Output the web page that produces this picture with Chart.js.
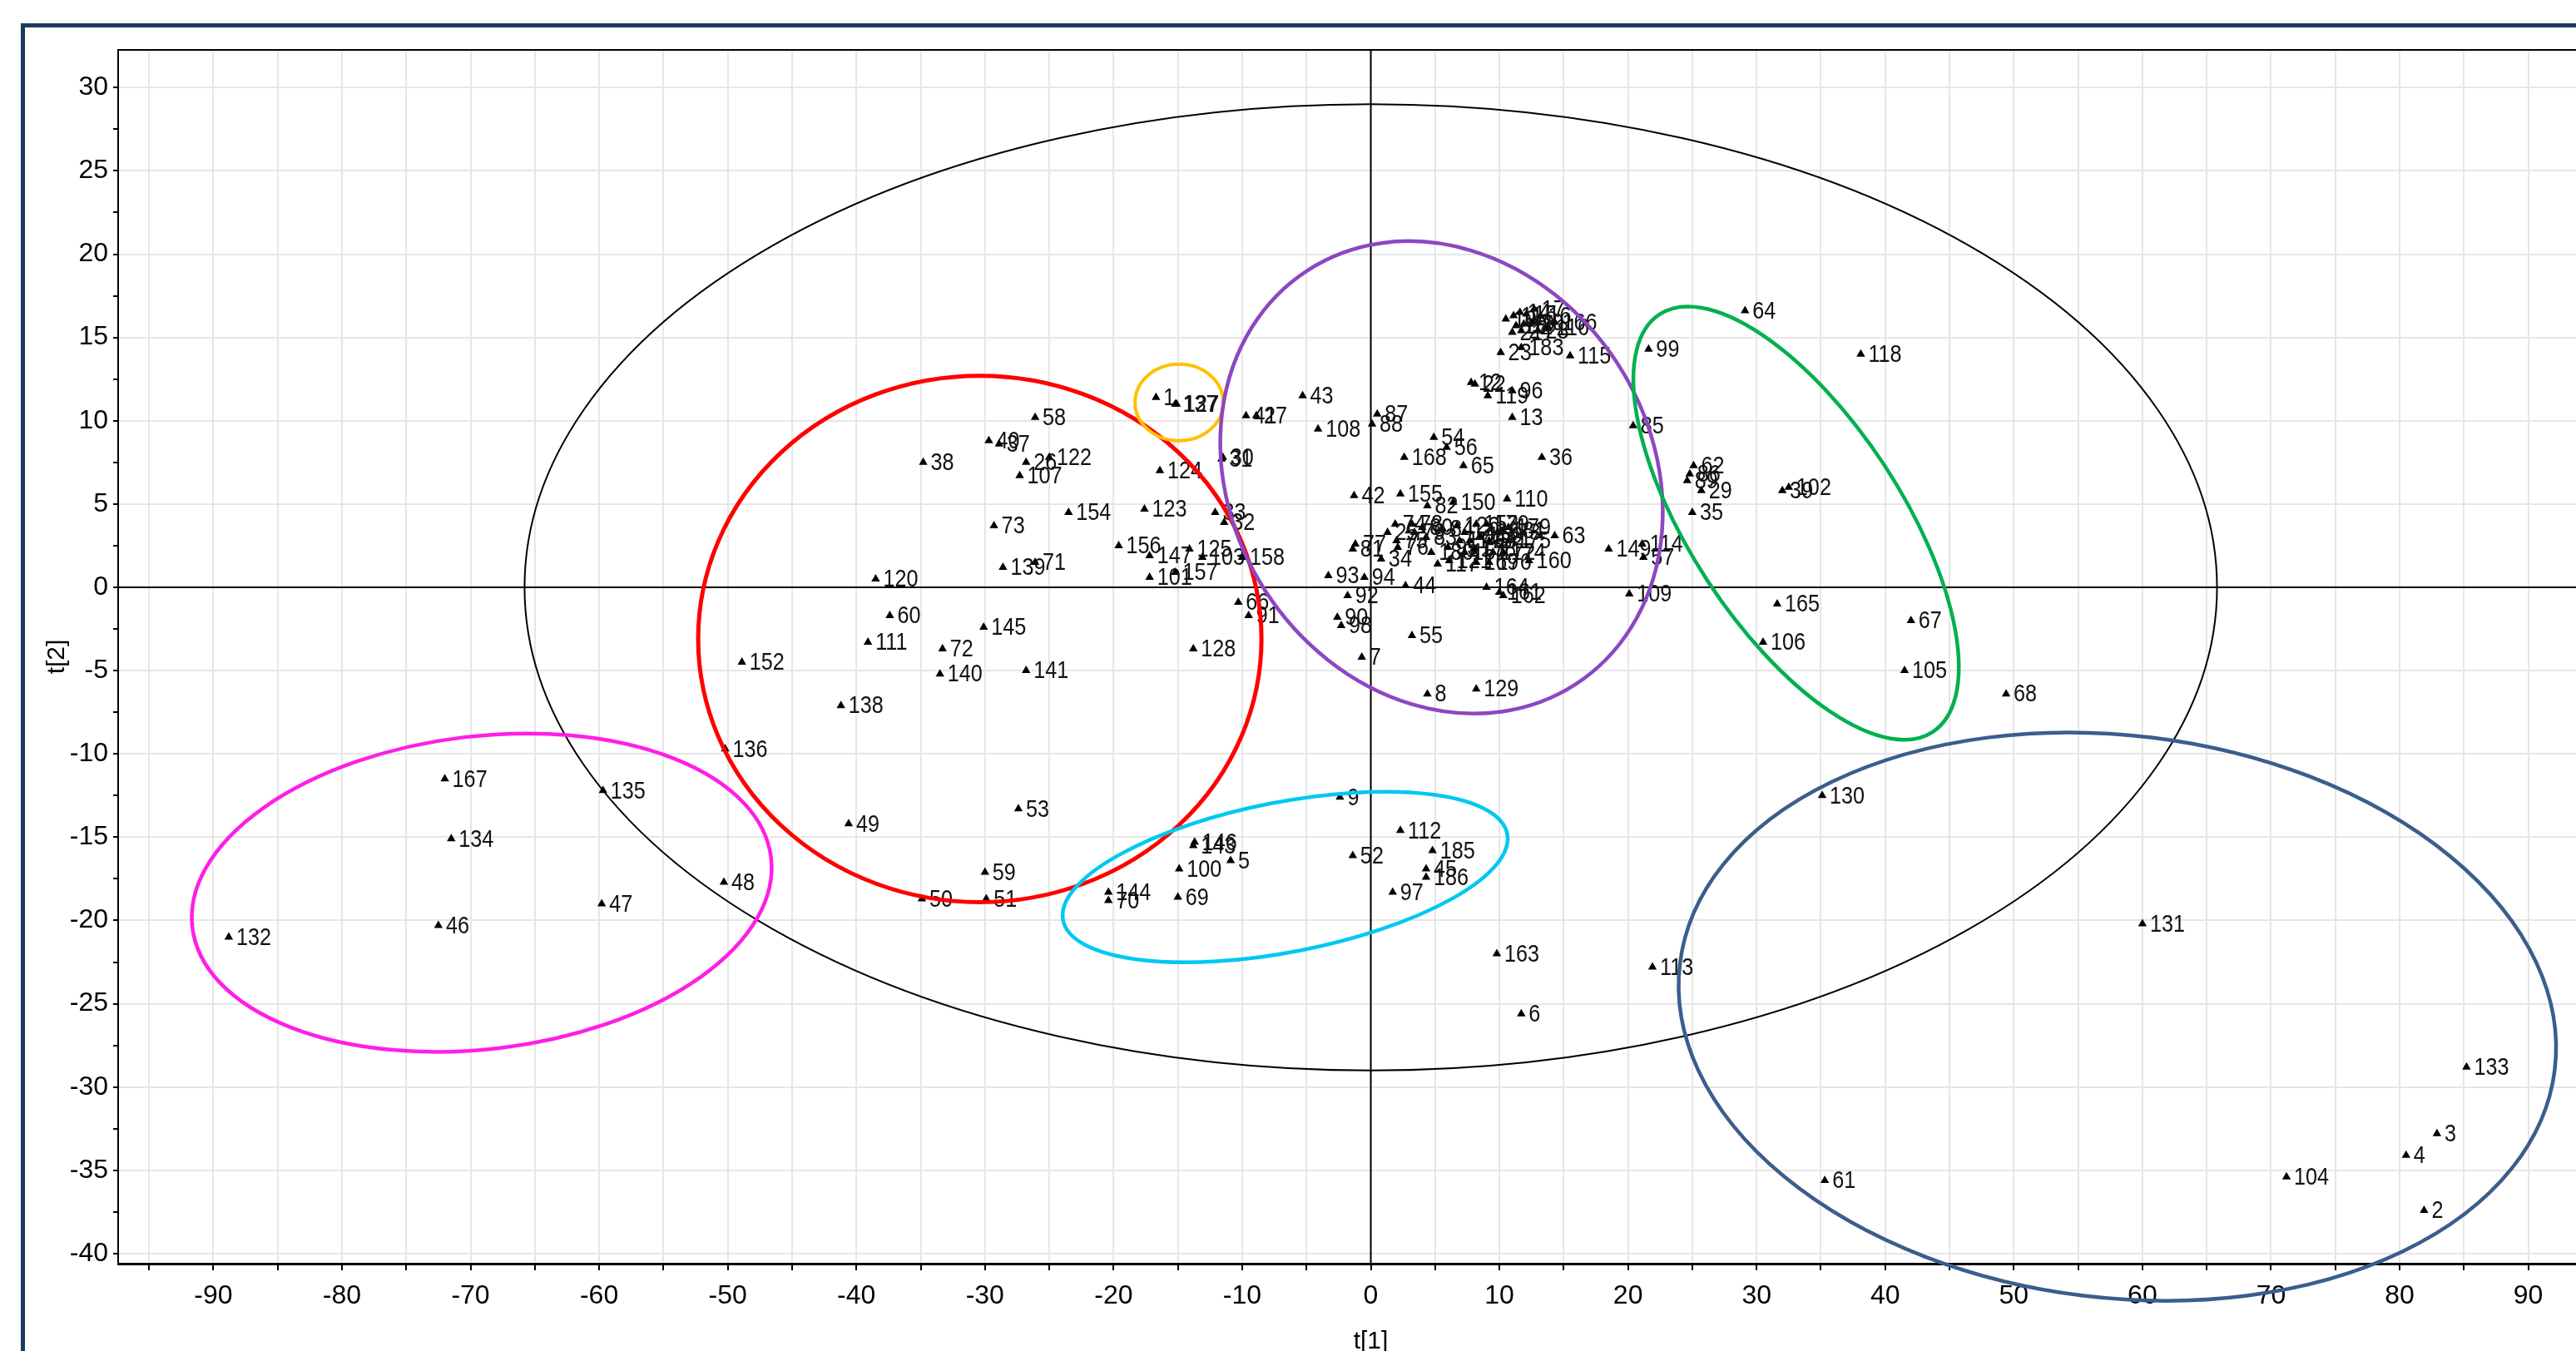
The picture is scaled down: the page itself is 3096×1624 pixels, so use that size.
<!DOCTYPE html>
<html>
<head>
<meta charset="utf-8">
<script src="https://cdn.jsdelivr.net/npm/chart.js@4.4.1/dist/chart.umd.min.js"></script>
<style>
html, body { margin: 0; padding: 0; background: #fff; overflow: hidden; width: 3096px; height: 1624px; }
#wrap { position: absolute; left: 0; top: 0; width: 3200px; height: 1700px; }
#frame { position: absolute; left: 25px; top: 28px; width: 3300px; height: 1800px; border: 5px solid #1c3a5e; pointer-events: none; }
</style>
</head>
<body>
<div id="wrap"><canvas id="scoreChart" width="3200" height="1700"></canvas></div>
<div id="frame"></div>
<script>
// score plot t[1] vs t[2], one entry per sample
const sampleIds = [
    132, 167, 134, 46, 135, 47, 48, 136, 152, 49, 138, 50, 51, 59, 53,
    120, 60, 111, 145, 72, 140, 141, 38, 40, 37, 58, 26, 122, 107, 73, 154, 139, 71,
    124, 123, 156, 147, 101, 125, 157, 103, 158, 33, 32, 31, 30, 66, 91, 128, 1, 137, 127,
    41, 27, 43, 108, 87, 88,
    54, 56, 168, 65, 36, 13, 12, 22, 119, 96, 23, 115, 99, 85, 42, 155, 82, 150, 110, 63,
    149, 114, 57, 109, 164, 161, 162, 160, 44, 93, 94, 92, 90, 98, 81, 77, 34, 7, 55, 8, 129,
    25, 74, 75, 76, 78, 79, 80, 83, 84, 95, 117, 121, 126, 142, 148, 151, 153, 159, 169,
    170, 171, 172, 173, 174, 175, 176, 177, 178, 179, 180, 181,
    10, 11, 14, 15, 17, 16, 18, 19, 20, 21, 24, 28, 116, 166, 183,
    64, 118, 62, 86, 89, 29, 35, 39, 102, 165, 106, 67, 105, 68,
    130, 131, 113, 133, 3, 4, 104, 61, 2,
    163, 6, 9, 112, 52, 185, 45, 186, 97, 146, 143, 100, 5, 69, 144, 70
];
const t1 = [
    -88.8, -72.0, -71.5, -72.5, -59.7, -59.8, -50.3, -50.2, -48.9, -40.6, -41.2, -34.9, -29.9, -30.0, -27.4,
    -38.5, -37.4, -39.1, -30.1, -33.3, -33.5, -26.8, -34.8, -29.7, -28.9, -26.1, -26.8, -25.0, -27.3, -29.3, -23.5, -28.6, -26.1,
    -16.4, -17.6, -19.6, -17.2, -17.2, -14.1, -15.2, -13.1, -10.0, -12.1, -11.4, -11.6, -11.5, -10.3, -9.5, -13.8, -16.7, -15.2, -15.1,
    -9.7, -8.9, -5.3, -4.1, 0.5, 0.1,
    4.9, 5.9, 2.6, 7.2, 13.3, 11.0, 7.8, 8.1, 9.1, 11.0, 10.1, 15.5, 21.6, 20.4, -1.3, 2.3, 4.4, 6.4, 10.6, 14.3,
    18.5, 21.1, 21.2, 20.1, 9.0, 10.0, 10.3, 12.3, 2.7, -3.3, -0.5, -1.8, -2.6, -2.3, -1.4, -1.2, 0.8, -0.7, 3.2, 4.4, 8.2,
    1.3, 1.9, 2.0, 2.1, 3.2, 3.4, 4.0, 4.3, 5.6, 6.0, 5.2, 6.1, 6.7, 7.3, 7.7, 7.3, 8.2, 8.5, 8.2,
    9.0, 9.2, 9.5, 9.9, 10.3, 10.7, 9.2, 6.9, 8.0, 10.7, 4.7, 10.3,
    10.5, 11.1, 11.6, 12.1, 12.7, 13.2, 11.3, 11.9, 12.6, 11.0, 11.7, 13.0, 13.8, 14.3, 11.7,
    29.1, 38.1, 25.1, 24.8, 24.6, 25.7, 25.0, 32.0, 32.5, 31.6, 30.5, 42.0, 41.5, 49.4,
    35.1, 60.0, 21.9, 85.2, 82.9, 80.5, 71.2, 35.3, 81.9,
    9.8, 11.7, -2.4, 2.3, -1.4, 4.8, 4.3, 4.3, 1.7, -13.7, -13.8, -14.9, -10.9, -15.0, -20.4, -20.4
];
const t2 = [
    -21.0, -11.5, -15.1, -20.3, -12.2, -19.0, -17.7, -9.7, -4.5, -14.2, -7.1, -18.7, -18.7, -17.1, -13.3,
    0.5, -1.7, -3.3, -2.4, -3.7, -5.2, -5.0, 7.5, 8.8, 8.6, 10.2, 7.5, 7.8, 6.7, 3.7, 4.5, 1.2, 1.5,
    7.0, 4.7, 2.5, 1.9, 0.6, 2.3, 0.9, 1.8, 1.8, 4.5, 3.9, 7.7, 7.8, -0.9, -1.7, -3.7, 11.4, 11.0, 11.0,
    10.3, 10.3, 11.5, 9.5, 10.4, 9.8,
    9.0, 8.4, 7.8, 7.3, 7.8, 10.2, 12.3, 12.2, 11.5, 11.8, 14.1, 13.9, 14.3, 9.7, 5.5, 5.6, 4.9, 5.1, 5.3, 3.1,
    2.3, 2.6, 1.8, -0.4, 0.0, -0.3, -0.5, 1.6, 0.1, 0.7, 0.6, -0.5, -1.8, -2.3, 2.3, 2.6, 1.7, -4.2, -2.9, -6.4, -6.1,
    3.3, 3.8, 2.8, 2.4, 3.8, 3.3, 3.6, 3.0, 3.5, 2.4, 1.4, 1.6, 3.7, 3.3, 2.8, 2.1, 3.8, 3.1, 1.5,
    3.8, 2.8, 2.1, 3.3, 2.1, 2.8, 1.5, 2.8, 2.3, 3.6, 2.1, 3.4,
    16.1, 16.3, 16.5, 16.4, 16.7, 16.3, 15.7, 15.8, 15.9, 15.3, 15.4, 15.4, 15.6, 15.9, 14.4,
    16.6, 14.0, 7.3, 6.8, 6.4, 5.8, 4.5, 5.8, 6.0, -1.0, -3.3, -2.0, -5.0, -6.4,
    -12.5, -20.2, -22.8, -28.8, -32.8, -34.1, -35.4, -35.6, -37.4,
    -22.0, -25.6, -12.6, -14.6, -16.1, -15.8, -16.9, -17.4, -18.3, -15.3, -15.5, -16.9, -16.4, -18.6, -18.3, -18.8
];

const xTicks = [-95, -90, -85, -80, -75, -70, -65, -60, -55, -50, -45, -40, -35, -30, -25, -20, -15, -10, -5,
    0, 5, 10, 15, 20, 25, 30, 35, 40, 45, 50, 55, 60, 65, 70, 75, 80, 85, 90, 95];
const yTicks = [-40, -37.5, -35, -32.5, -30, -27.5, -25, -22.5, -20, -17.5, -15, -12.5, -10, -7.5, -5, -2.5,
    0, 2.5, 5, 7.5, 10, 12.5, 15, 17.5, 20, 22.5, 25, 27.5, 30];

// group outlines drawn over the scores (centre in t units, radii in t units, tilt in degrees)
const groups = [
    { cx: 0, cy: 0, rx: 65.8, ry: 29.0, rot: 0, color: '#000000', width: 2 },
    { cx: -30.4, cy: -3.1, rx: 21.9, ry: 15.8, rot: 0, color: '#ff0000', width: 5 },
    { cx: -14.9, cy: 11.1, rx: 3.43, ry: 2.3, rot: 0, color: '#ffc000', width: 4 },
    { cx: 5.5, cy: 6.6, rx: 16.3, ry: 14.8, rot: -33, color: '#8e46c2', width: 4.5 },
    { cx: 33.07, cy: 3.85, rx: 19.4, ry: 6.34, rot: 56.8, color: '#00b050', width: 4.5 },
    { cx: -6.66, cy: -17.39, rx: 17.59, ry: 4.5, rot: -11, color: '#00c8f2', width: 4.5 },
    { cx: -69.13, cy: -18.33, rx: 22.66, ry: 9.39, rot: -6.9, color: '#ff1ee6', width: 4.5 },
    { cx: 58.05, cy: -25.77, rx: 34.26, ry: 16.88, rot: 6.9, color: '#3a5e8c', width: 4.5 }
];

const narrow = '"Liberation Sans Narrow", "Arial Narrow", "Liberation Sans", Arial, sans-serif';

const frameLines = {
    id: 'frameLines',
    beforeDatasetsDraw(chart) {
        const { ctx, chartArea, scales } = chart;
        const x0 = scales.x.getPixelForValue(0);
        const y0 = scales.y.getPixelForValue(0);
        ctx.save();
        ctx.strokeStyle = '#000';
        ctx.lineWidth = 2;
        ctx.beginPath();
        ctx.moveTo(x0, chartArea.top);
        ctx.lineTo(x0, chartArea.bottom);
        ctx.moveTo(chartArea.left, y0);
        ctx.lineTo(chartArea.right, y0);
        ctx.moveTo(chartArea.left, chartArea.top);
        ctx.lineTo(chartArea.right, chartArea.top);
        ctx.stroke();
        ctx.restore();
    }
};

// sample numbers to the right of each triangle, squeezed a little like the original narrow face
const pointLabels = {
    id: 'pointLabels',
    afterDatasetsDraw(chart) {
        const { ctx } = chart;
        const meta = chart.getDatasetMeta(0);
        ctx.save();
        ctx.font = '30px ' + narrow;
        ctx.fillStyle = '#111';
        ctx.textBaseline = 'middle';
        ctx.textAlign = 'left';
        meta.data.forEach((pt, i) => {
            ctx.save();
            ctx.translate(pt.x + 9, pt.y + 1);
            ctx.scale(0.84, 1);
            ctx.fillText(String(sampleIds[i]), 0, 0);
            ctx.restore();
        });
        ctx.restore();
    }
};

const groupOutlines = {
    id: 'groupOutlines',
    afterDraw(chart) {
        const { ctx, scales: { x, y } } = chart;
        const kx = Math.abs(x.getPixelForValue(1) - x.getPixelForValue(0));
        const ky = Math.abs(y.getPixelForValue(0) - y.getPixelForValue(1));
        ctx.save();
        groups.forEach(g => {
            ctx.beginPath();
            ctx.ellipse(x.getPixelForValue(g.cx), y.getPixelForValue(g.cy),
                g.rx * kx, g.ry * ky, g.rot * Math.PI / 180, 0, Math.PI * 2);
            ctx.strokeStyle = g.color;
            ctx.lineWidth = g.width;
            ctx.stroke();
        });
        ctx.restore();
    }
};

new Chart(document.getElementById('scoreChart'), {
    type: 'scatter',
    data: {
        datasets: [{
            data: t1.map((v, i) => ({ x: v, y: t2[i] })),
            pointStyle: 'triangle',
            pointRadius: 6,
            backgroundColor: '#000',
            borderWidth: 0
        }]
    },
    options: {
        responsive: false,
        animation: false,
        devicePixelRatio: 1,
        layout: { padding: { top: 60, right: 47, bottom: 0, left: 0 } },
        plugins: { legend: { display: false }, tooltip: { enabled: false } },
        scales: {
            x: {
                type: 'linear',
                position: 'bottom',
                min: -97.4,
                max: 97.4,
                afterBuildTicks: s => { s.ticks = xTicks.map(v => ({ value: v })); },
                afterFit: s => { s.height = 181; },
                ticks: {
                    autoSkip: false,
                    maxRotation: 0,
                    padding: 12,
                    color: '#000',
                    font: { family: narrow, size: 32 },
                    callback: v => (v % 10 === 0 ? String(v) : '')
                },
                grid: { color: '#e6e6e6', lineWidth: 2, tickColor: '#000', tickLength: 8, tickWidth: 2 },
                border: { color: '#000', width: 3 },
                title: { display: true, text: 't[1]', color: '#000', font: { family: narrow, size: 30 }, padding: { top: 0, bottom: 69 } }
            },
            y: {
                type: 'linear',
                min: -40.6,
                max: 32.26,
                afterBuildTicks: s => { s.ticks = yTicks.map(v => ({ value: v })); },
                afterFit: s => { s.width = 142; },
                ticks: {
                    autoSkip: false,
                    padding: 6,
                    color: '#000',
                    font: { family: narrow, size: 32 },
                    callback: v => (v % 5 === 0 ? String(v) : '')
                },
                grid: {
                    color: c => (c.tick && c.tick.value % 5 === 0 ? '#e6e6e6' : 'rgba(0,0,0,0)'),
                    lineWidth: 2, tickColor: '#000', tickLength: 6, tickWidth: 2
                },
                border: { color: '#000', width: 2 },
                title: { display: true, text: 't[2]', color: '#000', font: { family: narrow, size: 30 }, padding: { top: 51, bottom: 0 } }
            }
        }
    },
    plugins: [frameLines, pointLabels, groupOutlines]
});
</script>
</body>
</html>
